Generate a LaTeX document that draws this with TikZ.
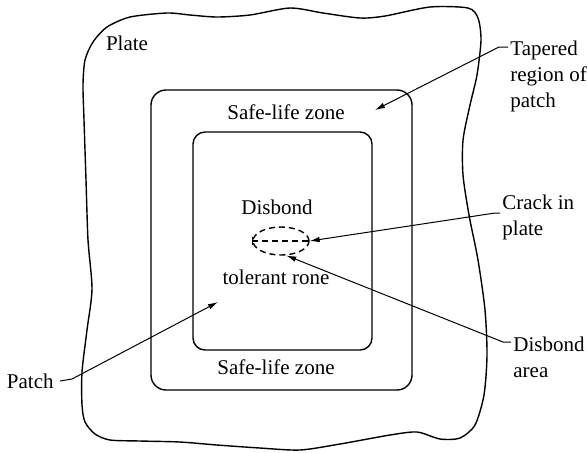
\documentclass[tikz,border=0pt]{standalone}
\usepackage{fontspec}
\setmainfont{Liberation Serif}
\usetikzlibrary{arrows.meta,shapes.geometric}

\begin{document}
\begin{tikzpicture}[
  x=0.5pt,y=-0.5pt,
  lbl/.style={inner sep=0pt,font=\fontsize{10.5}{13}\selectfont},
  zone/.style={line width=0.7pt},
  pointer/.style={line width=0.5pt,-{Latex[length=5pt,width=2.8pt]}}]

  \useasboundingbox (0,0) rectangle (587,452);

  % ------------------- plate ----------------------
  \draw[zone] plot[smooth cycle,tension=0.45] coordinates {
    (83,85) (85,60) (93,42) (107,27) (130,17) (167,13) (190,15) (217,17)
    (250,15) (290,8) (323,13) (360,18) (385,16) (430,7) (468,8) (478,18)
    (481,40) (477,75) (470,105) (463,140) (463,175) (469,215) (478,260)
    (485,310) (487,355) (484,395) (475,425) (460,438) (440,439) (417,432)
    (390,435) (340,444) (300,450) (260,448) (217,445) (180,442) (140,441)
    (110,440) (95,434) (85,422) (82,405) (82,372) (87,330) (92,289)
    (88,240) (86,180) (84,120)};
  \node[lbl] (plate) at (127,43) {Plate};

  % ------------------- patch ----------------------
  \draw[zone,rounded corners=7.5pt] (151,90) rectangle (412,390);
  \draw[zone,rounded corners=6pt] (193,132) rectangle (372,350);

  \node[lbl] (safetop) at (286,112) {Safe-life zone};
  \node[lbl] (safebot) at (276,367) {Safe-life zone};
  \node[lbl] (tolA) at (277,207) {Disbond};
  \node[lbl] (tolB) at (276,277) {tolerant rone};

  % ------------------- disbond ----------------------
  \node[ellipse,draw,line width=0.7pt,dash pattern=on 3pt off 2pt,minimum width=28pt,
    minimum height=14pt,inner sep=0pt] (disb) at (281,241) {};
  \draw[line width=0.7pt,dash pattern=on 3pt off 2pt] (disb.west) -- (disb.east);
  \draw[line width=0.7pt] ([yshift=2pt]disb.west) -- ([yshift=-2pt]disb.west);

  % ------------------- labels ----------------------
  \node[lbl,align=left,anchor=north west] (taper) at (510,41) {Tapered\\region of\\patch};
  \node[lbl,align=left,anchor=north west] (crack) at (502,195) {Crack in\\plate};
  \node[lbl,align=left,anchor=north west] (area)  at (513,337) {Disbond\\area};
  \node[lbl,anchor=east] (patch) at (54,381) {Patch};

  \coordinate (taptip) at (375,110);
  \coordinate (patchtip) at (218,302);

  \draw[pointer] ([xshift=-1pt,yshift=-3pt]taper.north west) -- ++(-9,0) -- (taptip);
  \draw[pointer] ([xshift=-1pt,yshift=-9pt]crack.north west) -- ++(-5,0) -- (disb.east);
  \draw[pointer] ([xshift=-1pt,yshift=-2.5pt]area.north west) -- ++(-8,0) -- (disb.-70);
  \draw[pointer] ([xshift=3pt]patch.east) -- ++(12,-2) -- (patchtip);
\end{tikzpicture}
\end{document}
